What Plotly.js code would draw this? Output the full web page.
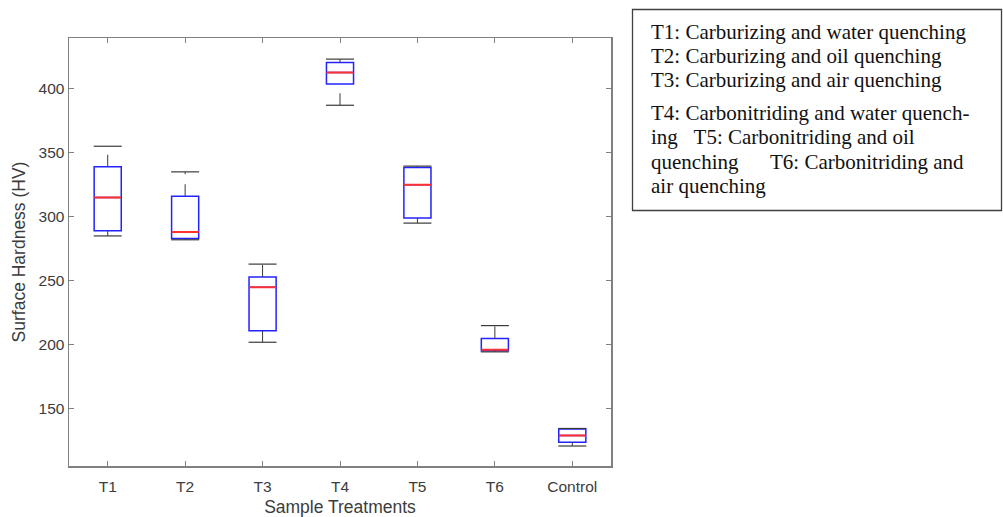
<!DOCTYPE html>
<html>
<head>
<meta charset="utf-8">
<script src="https://cdn.plot.ly/plotly-3.0.1.min.js"></script>
<style>
  html, body { margin: 0; padding: 0; background: #ffffff; }
  #chart { width: 1003px; height: 517px; }
</style>
</head>
<body>
<div id="chart"></div>
<script>
// ---- data ----
const categories = ['T1', 'T2', 'T3', 'T4', 'T5', 'T6', 'Control'];
const lowerWhisker = [285, 282, 202, 387, 295, 194.5, 121];
const q1Values     = [289, 283, 211, 403.6, 299, 195.4, 124];
const medianValues = [315, 288, 245, 412.5, 325, 196.2, 129.2];
const q3Values     = [339, 316, 253, 420.3, 338.5, 205, 134.2];
const upperWhisker = [355, 335, 263, 423, 339.5, 215, 134.7];
const yTickValues  = [150, 200, 250, 300, 350, 400];
const xTitle = 'Sample Treatments';
const yTitle = 'Surface Hardness (HV)';
const legendLines = [
  'T1: Carburizing and water quenching',
  'T2: Carburizing and oil quenching',
  'T3: Carburizing and air quenching',
  'T4: Carbonitriding and water quench-',
  'ing\u00a0\u00a0\u00a0T5: Carbonitriding and oil',
  'quenching\u00a0\u00a0\u00a0\u00a0\u00a0\u00a0T6: Carbonitriding and',
  'air quenching'
];

// ---- layout helpers (pixel -> paper) ----
const M = { l: 69, r: 392, t: 38, b: 51 };
const W = 1003, H = 517;
const PW = W - M.l - M.r, PH = H - M.t - M.b;
const X = px => (px - M.l) / PW;
const Y = py => (H - M.b - py) / PH;
const legendCenters = [31.5, 55.5, 79.5, 112.5, 137, 161.5, 186];

// whisker segments (drawn from lower value to higher value)
const wx = [], wy = [];
categories.forEach((c, i) => {
  wx.push(c, c, null, c, c, null);
  wy.push(q3Values[i], upperWhisker[i], null, lowerWhisker[i], q1Values[i], null);
});

const whiskerColor = '#3a3a3a';
const traces = [
  {
    type: 'scatter', mode: 'lines', x: wx, y: wy,
    line: { color: whiskerColor, width: 1, dash: '12px,10px' },
    hoverinfo: 'skip', showlegend: false
  },
  {
    type: 'scatter', mode: 'markers', x: categories, y: upperWhisker,
    marker: { symbol: 'line-ew', size: 20, line: { color: whiskerColor, width: 1.2 } },
    hoverinfo: 'skip', showlegend: false
  },
  {
    type: 'scatter', mode: 'markers', x: categories, y: lowerWhisker,
    marker: { symbol: 'line-ew', size: 20, line: { color: whiskerColor, width: 1.2 } },
    hoverinfo: 'skip', showlegend: false
  },
  {
    type: 'box', x: categories,
    q1: q1Values, median: medianValues, q3: q3Values,
    lowerfence: q1Values, upperfence: q3Values,
    boxpoints: false, whiskerwidth: 0,
    line: { color: '#2323ff', width: 1.5 },
    fillcolor: 'rgba(0,0,0,0)',
    hoverinfo: 'skip', showlegend: false
  },
  {
    type: 'box', x: categories,
    q1: medianValues, median: medianValues, q3: medianValues,
    lowerfence: medianValues, upperfence: medianValues,
    boxpoints: false, whiskerwidth: 0,
    line: { color: '#ff3030', width: 2 },
    fillcolor: 'rgba(0,0,0,0)',
    hoverinfo: 'skip', showlegend: false
  }
];

const axisColor = '#808080';
const tickFont = { family: 'Liberation Sans, Arial, sans-serif', size: 15.5, color: '#3c3c3c' };
const titleFont = { family: 'Liberation Sans, Arial, sans-serif', size: 17.5, color: '#3c3c3c' };

const annotations = legendLines.map((t, i) => ({
  xref: 'paper', yref: 'paper',
  x: X(649), y: Y(legendCenters[i]),
  xanchor: 'left', yanchor: 'middle',
  text: t, showarrow: false,
  font: { family: 'Liberation Serif, Times New Roman, serif', size: 21, color: '#111111' }
}));

const layout = {
  width: W, height: H,
  margin: M,
  paper_bgcolor: '#ffffff', plot_bgcolor: '#ffffff',
  showlegend: false,
  boxmode: 'overlay', boxgap: 0.5,
  hovermode: false,
  xaxis: {
    type: 'category', range: [-0.5, categories.length - 0.5],
    showline: true, mirror: 'ticks', linecolor: axisColor, linewidth: 1.5,
    ticks: 'inside', ticklen: 5, tickcolor: axisColor, tickwidth: 1,
    showgrid: false, zeroline: false,
    tickfont: tickFont, ticklabelstandoff: 6,
    title: { text: xTitle, font: titleFont, standoff: 10 }
  },
  yaxis: {
    range: [105.4, 439.5],
    tickvals: yTickValues,
    showline: true, mirror: 'ticks', linecolor: axisColor, linewidth: 1.5,
    ticks: 'inside', ticklen: 5, tickcolor: axisColor, tickwidth: 1,
    showgrid: false, zeroline: false,
    tickfont: tickFont,
    title: { text: yTitle, font: titleFont, standoff: 8 }
  },
  shapes: [{
    type: 'rect', xref: 'paper', yref: 'paper',
    x0: X(632.5), x1: X(1001.5), y0: Y(210.5), y1: Y(9.5),
    line: { color: '#404040', width: 1.3 }, fillcolor: 'rgba(0,0,0,0)'
  }],
  annotations: annotations
};

Plotly.newPlot('chart', traces, layout, { staticPlot: true, displayModeBar: false });
</script>
</body>
</html>
